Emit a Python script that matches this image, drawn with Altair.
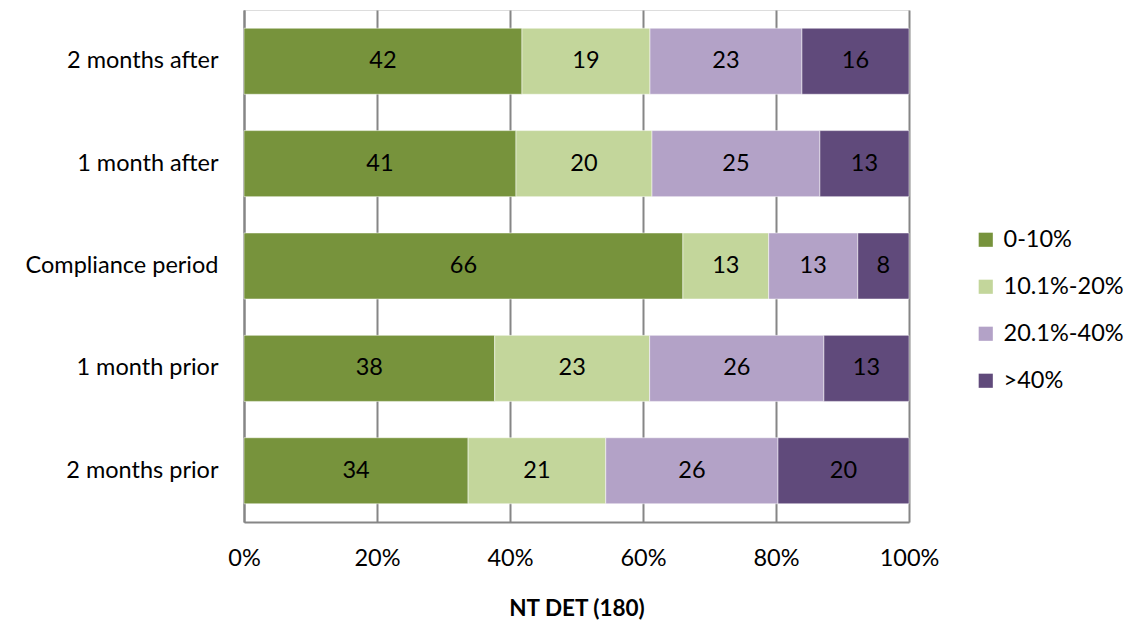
import altair as alt
import pandas as pd

periods = ["2 months after", "1 month after", "Compliance period", "1 month prior", "2 months prior"]
series = ["0-10%", "10.1%-20%", "20.1%-40%", ">40%"]
colors = ["#77933C", "#C3D69B", "#B3A2C7", "#604A7B"]

# shares (percent) per period, in series order
v_0_10 = [41.8, 40.9, 66.0, 37.7, 33.7]
v_10_20 = [19.25, 20.45, 12.9, 23.3, 20.7]
v_20_40 = [22.85, 25.25, 13.4, 26.2, 25.9]
v_40 = [16.1, 13.4, 7.7, 12.8, 19.7]

lab_0_10 = [42, 41, 66, 38, 34]
lab_10_20 = [19, 20, 13, 23, 21]
lab_20_40 = [23, 25, 13, 26, 26]
lab_40 = [16, 13, 8, 13, 20]

rows = []
for vals, labs, s_i in [(v_0_10, lab_0_10, 0), (v_10_20, lab_10_20, 1), (v_20_40, lab_20_40, 2), (v_40, lab_40, 3)]:
    for p, v, l in zip(periods, vals, labs):
        rows.append({"period": p, "series": series[s_i], "order": s_i, "value": v, "label": str(l)})
df = pd.DataFrame(rows)

FONT = "Lato"
FS = 23.5

base = alt.Chart(df).transform_joinaggregate(
    total="sum(value)", groupby=["period"]
).transform_calculate(
    share="datum.value / datum.total"
).transform_stack(
    stack="share", as_=["s0", "s1"], groupby=["period"], sort=[alt.SortField("order", "ascending")]
).transform_calculate(
    mid="(datum.s0 + datum.s1) / 2"
)

y_enc = alt.Y("period:N", sort=periods, title=None,
              scale=alt.Scale(paddingInner=0.355, paddingOuter=0.178),
              axis=alt.Axis(labelFont=FONT, labelFontSize=FS, labelColor="black",
                            labelPadding=26, labelLimit=400, ticks=False, domainColor="#868686",
                            domainWidth=2, grid=False))

bars = base.mark_bar(stroke="white", strokeWidth=0.5).encode(
    x=alt.X("s0:Q", scale=alt.Scale(domain=[0, 1], nice=False),
            axis=alt.Axis(format="%", values=[0, 0.2, 0.4, 0.6, 0.8, 1.0],
                          title="NT DET (180)", titleFont=FONT, titleFontSize=FS - 1,
                          titleFontWeight="bold", titleColor="black", titlePadding=28,
                          labelFont=FONT, labelFontSize=FS, labelColor="black",
                          labelFlush=False,
                          labelPadding=24, ticks=False, domainColor="#868686",
                          domainWidth=2, grid=True, gridColor="#868686", gridWidth=2)),
    x2="s1:Q",
    y=y_enc,
    color=alt.Color("series:N", sort=series,
                    scale=alt.Scale(domain=series, range=colors),
                    legend=alt.Legend(title=None, orient="none", legendX=730, legendY=218,
                                      symbolType="square", symbolSize=200,
                                      symbolStrokeWidth=0, labelFont=FONT,
                                      labelFontSize=FS, labelColor="black",
                                      rowPadding=22, labelOffset=6)),
    order=alt.Order("order:Q"),
)

texts = base.mark_text(font=FONT, fontSize=FS, color="black").encode(
    x=alt.X("mid:Q"),
    y=alt.Y("period:N", sort=periods),
    text="label:N",
)

chart = alt.layer(bars, texts).properties(
    width=665, height=512,
    autosize=alt.AutoSizeParams(type="none"),
    padding={"left": 244, "top": 10, "right": 220, "bottom": 104},
).configure_view(stroke=None).configure(background="white")

chart.save("out.html", embed_options={"renderer": "svg", "actions": False})
